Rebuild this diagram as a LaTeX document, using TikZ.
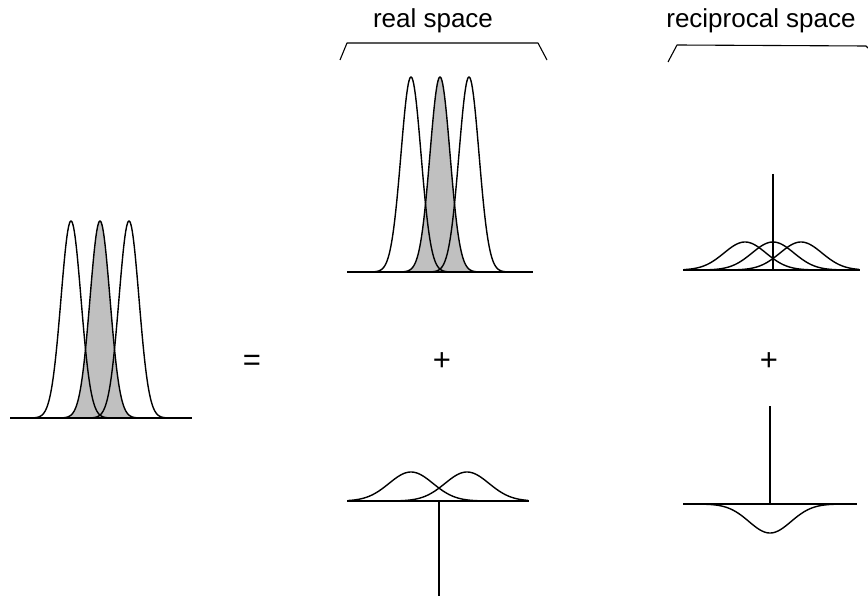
\documentclass[tikz,border=0pt]{standalone}
\usepackage{fontspec}
\setmainfont{Liberation Sans}
\definecolor{peakgray}{RGB}{192,192,192}
\begin{document}
\begin{tikzpicture}[x=1pt,y=-1pt,
  curve/.style={line width=1.4pt,black,line join=round},
  axisline/.style={line width=2.2pt,black},
  stick/.style={line width=1.5pt,black},
  bracket/.style={line width=1.1pt,black,line join=round},
  lbl/.style={font=\fontsize{26}{30}\selectfont,inner sep=0pt,anchor=base},
  sym/.style={font=\fontsize{31}{34}\selectfont,inner sep=0pt,anchor=base}]
\useasboundingbox (0,0) rectangle (868,596);
% ---------- left figure ----------
\fill[peakgray] plot[domain=60:140,samples=121] (\x,{418-197*exp(-((\x-100)^2)/200)}) -- cycle;
\foreach \c in {71,100,129}{
  \draw[curve] plot[domain=\c-40:\c+40,samples=121] (\x,{418-197*exp(-((\x-\c)^2)/200)});
}
\draw[axisline] (10,418) -- (192,418);
% ---------- middle top ----------
\fill[peakgray] plot[domain=400:480,samples=121] (\x,{272-195*exp(-((\x-440)^2)/200)}) -- cycle;
\foreach \c in {411,440,469}{
  \draw[curve] plot[domain=\c-40:\c+40,samples=121] (\x,{272-195*exp(-((\x-\c)^2)/200)});
}
\draw[axisline] (347,272) -- (533,272);
% ---------- right top ----------
\foreach \c in {745,773,801}{
  \draw[curve] plot[domain=684:859,samples=151] (\x,{270-28*exp(-((\x-\c)^2)/882)});
}
\draw[stick] (773,174) -- (773,270);
\draw[axisline] (683,270) -- (860,270);
% ---------- middle bottom ----------
\foreach \c in {411,467}{
  \draw[curve] plot[domain=348:528,samples=151] (\x,{501-29*exp(-((\x-\c)^2)/968)});
}
\draw[stick] (439,501) -- (439,596);
\draw[axisline] (347,501) -- (529,501);
% ---------- right bottom ----------
\draw[curve] plot[domain=690:850,samples=151] (\x,{504+29*exp(-((\x-770)^2)/882)});
\draw[stick] (770,406) -- (770,504);
\draw[axisline] (683,504) -- (857,504);
% ---------- brackets ----------
\draw[bracket] (340,60) -- (347,43) -- (538,43) -- (547,60);
\draw[bracket] (668,62) -- (677,45) -- (866,46) -- (868,48);
% ---------- labels ----------
\node[lbl] (real) at (433,28) {real space};
\node[lbl] (recip) at (761,28) {reciprocal space};
\node[sym] (eq) at (252,370) {=};
\node[sym] (plusA) at (442,370) {+};
\node[sym] (plusB) at (769,370) {+};
\end{tikzpicture}
\end{document}
